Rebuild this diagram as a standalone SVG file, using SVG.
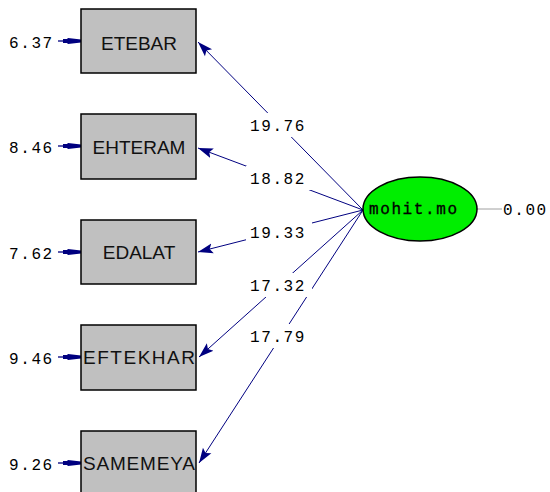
<svg xmlns="http://www.w3.org/2000/svg" width="550" height="492" viewBox="0 0 550 492">
<style>
.box{fill:#c0c0c0;stroke:#000;stroke-width:1.5}
.bt{font-family:"Liberation Sans",Arial,sans-serif;font-size:19px;fill:#111;text-anchor:middle}
.num{font-family:"Liberation Mono","Courier New",monospace;font-size:16px;letter-spacing:1.6px;fill:#000}
.path{stroke:#000080;stroke-width:1;fill:none}
.err{stroke:#000080;stroke-width:1.3;fill:none}
.lab{fill:#fff}
</style>
<defs>
<marker id="ah" markerUnits="userSpaceOnUse" markerWidth="16" markerHeight="12" refX="15" refY="6" orient="auto">
<polygon points="0,1 15,6 0,11 3,6" fill="#000080"/>
</marker>
<marker id="eh" markerUnits="userSpaceOnUse" markerWidth="18" markerHeight="8" refX="18" refY="4" orient="auto">
<polygon points="0,2 4,2 5,1 18,2.5 18,5.5 5,7 4,6 0,6" fill="#000080"/>
</marker>
</defs>
<g id="connectors">
<line class="path" x1="363" y1="210" x2="198" y2="42" marker-end="url(#ah)"/>
<line class="path" x1="363" y1="210" x2="198" y2="148" marker-end="url(#ah)"/>
<line class="path" x1="363" y1="210" x2="198" y2="252" marker-end="url(#ah)"/>
<line class="path" x1="363" y1="210" x2="199" y2="357" marker-end="url(#ah)"/>
<line class="path" x1="363" y1="210" x2="199" y2="463" marker-end="url(#ah)"/>
<line class="err" x1="58" y1="41" x2="81" y2="41" marker-end="url(#eh)"/>
<line class="err" x1="58" y1="146" x2="81" y2="146" marker-end="url(#eh)"/>
<line class="err" x1="58" y1="252" x2="81" y2="252" marker-end="url(#eh)"/>
<line class="err" x1="58" y1="357" x2="81" y2="357" marker-end="url(#eh)"/>
<line class="err" x1="58" y1="463" x2="81" y2="463" marker-end="url(#eh)"/>
<line x1="476" y1="209" x2="502" y2="209" stroke="#a0a0a0" stroke-width="1"/>
<rect class="lab" x="246" y="113" width="66" height="24"/>
<rect class="lab" x="246" y="166" width="66" height="24"/>
<rect class="lab" x="246" y="220" width="66" height="24"/>
<rect class="lab" x="246" y="273" width="66" height="24"/>
<rect class="lab" x="246" y="324" width="66" height="24"/>
<text class="num" x="250" y="131">19.76</text>
<text class="num" x="250" y="184">18.82</text>
<text class="num" x="250" y="238">19.33</text>
<text class="num" x="250" y="291">17.32</text>
<text class="num" x="250" y="342">17.79</text>
</g>
<g id="ETEBAR">
<rect class="box" x="81" y="9" width="115" height="64"/>
<text class="bt" x="139" y="50">ETEBAR</text>
<text class="num" x="9" y="48">6.37</text>
</g>
<g id="EHTERAM">
<rect class="box" x="81" y="114" width="115" height="65"/>
<text class="bt" x="139" y="154">EHTERAM</text>
<text class="num" x="9" y="153">8.46</text>
</g>
<g id="EDALAT">
<rect class="box" x="81" y="220" width="115" height="64"/>
<text class="bt" x="139" y="259">EDALAT</text>
<text class="num" x="9" y="259">7.62</text>
</g>
<g id="EFTEKHAR">
<rect class="box" x="81" y="325" width="115" height="65"/>
<text class="bt" x="139" y="364" textLength="112" lengthAdjust="spacing">EFTEKHAR</text>
<text class="num" x="9" y="364">9.46</text>
</g>
<g id="SAMEMEYA">
<rect class="box" x="81" y="431" width="115" height="64"/>
<text class="bt" x="139" y="470" textLength="112" lengthAdjust="spacing">SAMEMEYA</text>
<text class="num" x="9" y="470">9.26</text>
</g>
<g id="mohit.mo">
<ellipse cx="420" cy="209" rx="57" ry="32" fill="#00ee00" stroke="#000" stroke-width="1.5"/>
<text class="num" x="369" y="214" stroke="#000" stroke-width="0.3" letter-spacing="2">mohit.mo</text>
</g>
<g id="var00">
<text class="num" x="503" y="215">0.00</text>
</g>
</svg>
